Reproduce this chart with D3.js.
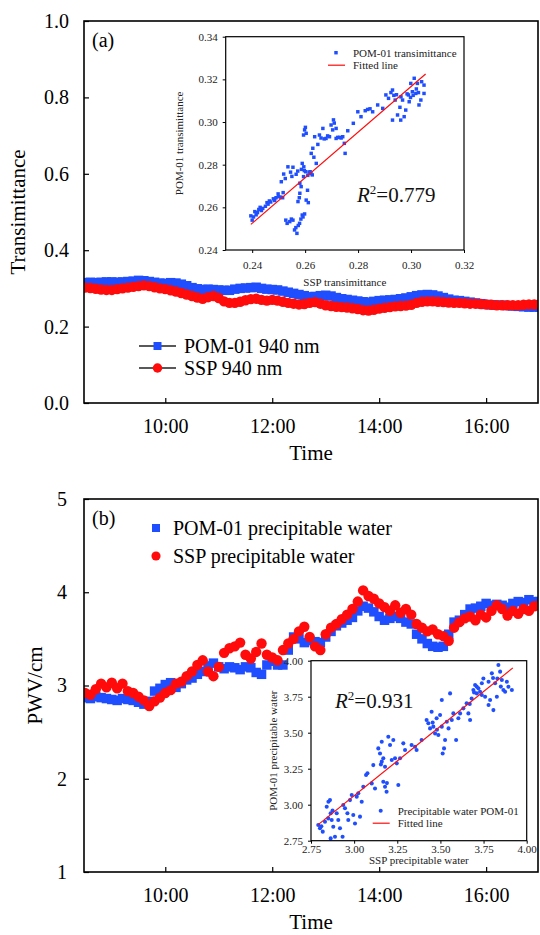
<!DOCTYPE html>
<html>
<head>
<meta charset="utf-8">
<script src="https://cdn.jsdelivr.net/npm/d3@7"></script>
<style>
  body { margin: 0; background: #fff; }
  svg { display: block; }
  svg text { font-family: "Liberation Serif", "Times New Roman", serif; }
</style>
</head>
<body>
<svg id="chart" width="540" height="935"></svg>
<script>
// time series: first sample 8:30, one sample every 6 minutes (hours)
const t0 = 8.5;
const dt = 0.1;

// (a) transmittance at 940 nm
const pomTrans = [
  0.315, 0.316, 0.315, 0.316, 0.317,
  0.317, 0.316, 0.317, 0.318, 0.319, 0.321, 0.320, 0.318, 0.316, 0.314,
  0.313, 0.315, 0.314, 0.311, 0.307, 0.302, 0.299, 0.297, 0.298, 0.297,
  0.296, 0.295, 0.295, 0.298, 0.300, 0.301, 0.302, 0.303, 0.300, 0.298,
  0.297, 0.296, 0.293, 0.290, 0.287, 0.284, 0.281, 0.278, 0.279, 0.281,
  0.282, 0.280, 0.276, 0.273, 0.271, 0.269, 0.267, 0.265, 0.264, 0.266,
  0.268, 0.269, 0.270, 0.271, 0.273, 0.275, 0.278, 0.281, 0.283, 0.284,
  0.283, 0.280, 0.276, 0.272, 0.269, 0.268, 0.266, 0.264, 0.262, 0.260,
  0.258, 0.257, 0.256, 0.256, 0.255, 0.254, 0.253, 0.252, 0.251, 0.251,
  0.251
];
const sspTrans = [
  0.302, 0.301, 0.299, 0.297, 0.296,
  0.296, 0.298, 0.300, 0.302, 0.304, 0.306, 0.308, 0.306, 0.303, 0.300,
  0.298, 0.295, 0.292, 0.288, 0.284, 0.280, 0.276, 0.273, 0.277, 0.280,
  0.275, 0.266, 0.262, 0.262, 0.265, 0.269, 0.272, 0.273, 0.270, 0.268,
  0.270, 0.268, 0.265, 0.262, 0.260, 0.258, 0.259, 0.262, 0.264, 0.260,
  0.256, 0.254, 0.252, 0.251, 0.250, 0.248, 0.246, 0.243, 0.242, 0.244,
  0.247, 0.249, 0.251, 0.253, 0.254, 0.255, 0.257, 0.262, 0.265, 0.266,
  0.266, 0.265, 0.264, 0.263, 0.262, 0.262, 0.261, 0.260, 0.260, 0.259,
  0.258, 0.257, 0.256, 0.256, 0.256, 0.256, 0.256, 0.257, 0.258, 0.258,
  0.258
];

// (b) precipitable water, cm
const pomPwv = [
  2.87, 2.86, 2.88, 2.87, 2.86,
  2.85, 2.84, 2.86, 2.85, 2.84, 2.82, 2.80, 2.83, 2.94, 2.97,
  3.01, 3.03, 2.98, 3.02, 3.06, 3.08, 3.12, 3.15, 3.21, 3.24,
  3.20, 3.18, 3.20, 3.19, 3.17, 3.20, 3.19, 3.14, 3.12, 3.22,
  3.26, 3.22, 3.22, 3.38, 3.52, 3.50, 3.46, 3.48, 3.47, 3.46,
  3.52, 3.58, 3.64, 3.67, 3.70, 3.73, 3.80, 3.85, 3.83, 3.79,
  3.74, 3.70, 3.72, 3.74, 3.72, 3.68, 3.66, 3.55, 3.50, 3.45,
  3.42, 3.41, 3.42, 3.55, 3.68, 3.70, 3.76, 3.82, 3.83, 3.85,
  3.88, 3.86, 3.87, 3.86, 3.84, 3.88, 3.90, 3.89, 3.92, 3.90,
  3.90
];
const sspPwv = [
  2.92, 2.90, 2.96, 3.02, 2.98,
  3.03, 2.97, 3.02, 2.94, 2.92, 2.88, 2.84, 2.78, 2.83, 2.87,
  2.92, 2.95, 3.02, 3.04, 3.10, 3.15, 3.22, 3.27, 3.15, 3.10,
  3.20, 3.35, 3.40, 3.42, 3.46, 3.33, 3.29, 3.36, 3.45, 3.33,
  3.30, 3.27, 3.38, 3.45, 3.50, 3.58, 3.63, 3.52, 3.42, 3.38,
  3.55, 3.62, 3.66, 3.71, 3.76, 3.82, 3.90, 4.02, 3.96, 3.93,
  3.88, 3.84, 3.80, 3.86, 3.78, 3.82, 3.76, 3.66, 3.62, 3.58,
  3.60, 3.55, 3.53, 3.48, 3.62, 3.68, 3.72, 3.74, 3.70, 3.76,
  3.73, 3.80, 3.86, 3.82, 3.75, 3.80, 3.77, 3.82, 3.80, 3.85,
  3.86
];

const timeTicks = [10, 12, 14, 16];
const transTicks = [0, 0.2, 0.4, 0.6, 0.8, 1.0];
const pwvTicks = [1, 2, 3, 4, 5];

// inset (a): SSP vs POM-01 transmittance
const scatterTrans = [
  [0.2395,0.256],[0.2400,0.254],[0.2405,0.2555],[0.241,0.258],[0.2415,0.2565],[0.242,0.2575],
  [0.2425,0.259],[0.243,0.260],[0.2435,0.2585],[0.244,0.2595],[0.245,0.2605],[0.2456,0.2622],
  [0.246,0.2615],[0.2465,0.263],[0.247,0.2625],[0.248,0.264],[0.2485,0.2632],[0.249,0.2645],
  [0.2498,0.2663],[0.250,0.265],[0.2508,0.2648],[0.2517,0.2669],[0.2515,0.2645],[0.251,0.272],
  [0.2519,0.2756],[0.2525,0.2735],[0.2535,0.279],[0.2554,0.2788],[0.2545,0.2765],[0.255,0.2745],
  [0.2527,0.254],[0.2532,0.2525],[0.2542,0.2533],[0.2548,0.2545],[0.2554,0.254],[0.256,0.2494],
  [0.2565,0.2505],[0.2569,0.2478],[0.2574,0.2515],[0.2579,0.2525],[0.2584,0.2545],[0.2589,0.2564],
  [0.2598,0.2569],[0.2592,0.2555],
  [0.2573,0.2627],[0.2578,0.2645],[0.258,0.2666],[0.2585,0.2697],[0.258,0.2713],[0.2594,0.2744],
  [0.2602,0.2767],[0.261,0.275],[0.2609,0.268],[0.2604,0.2634],[0.2612,0.2622],[0.2589,0.2806],
  [0.2597,0.2772],[0.2615,0.2765],[0.2622,0.2758],[0.2627,0.2752],[0.2619,0.2767],[0.2566,0.2755],
  [0.2572,0.277],[0.2586,0.2778],[0.2595,0.279],
  [0.2598,0.2963],[0.2594,0.2939],[0.2604,0.2947],[0.2601,0.2975],[0.2623,0.2853],[0.2629,0.2877],
  [0.2636,0.2931],[0.2642,0.2806],[0.2633,0.2835],[0.2648,0.2895],
  [0.2654,0.2939],[0.266,0.2925],[0.2667,0.297],[0.2672,0.2921],[0.2679,0.2923],[0.2685,0.2935],
  [0.2692,0.2931],[0.2698,0.2986],[0.2704,0.2963],[0.2707,0.301],[0.271,0.2995],[0.2717,0.297],
  [0.2717,0.2923],[0.2723,0.2928],[0.273,0.2928],[0.2742,0.2931],[0.2748,0.29],[0.2751,0.2853],
  [0.2761,0.2959],[0.2736,0.2925],
  [0.2782,0.2994],[0.2799,0.3048],[0.2811,0.3025],[0.2827,0.3053],[0.2836,0.3059],[0.2855,0.3048],
  [0.2874,0.308],[0.2893,0.3064],[0.2845,0.3062],
  [0.2905,0.3127],[0.2915,0.3111],[0.2924,0.3138],[0.293,0.315],[0.2935,0.3125],[0.294,0.3103],
  [0.2949,0.3033],[0.2958,0.3069],[0.2962,0.3118],[0.2968,0.3103],[0.2974,0.3025],[0.298,0.3056],
  [0.2985,0.3132],[0.299,0.3127],[0.2993,0.3095],[0.2999,0.3181],[0.3005,0.3142],[0.3012,0.3205],
  [0.3018,0.3134],[0.302,0.3155],[0.3024,0.3181],[0.303,0.308],[0.3037,0.3103],[0.304,0.3189],
  [0.3049,0.3173],[0.3049,0.3134],[0.2961,0.3009],[0.293,0.3009],[0.2945,0.3128],[0.2998,0.3115],
  [0.3008,0.3125],[0.3028,0.3138]
];
const fitTrans = [[0.2395, 0.252], [0.3055, 0.3225]];
const transInsetTicks = [0.24, 0.26, 0.28, 0.30, 0.32];
const transInsetYTicks = [0.24, 0.26, 0.28, 0.30, 0.32, 0.34];

// inset (b): SSP vs POM-01 precipitable water
const scatterPwv = [
  [2.792,2.859],[2.802,2.836],[2.818,2.813],[2.831,2.882],[2.841,2.986],[2.851,3.021],[2.86,3.032],
  [2.864,2.94],[2.87,2.894],[2.879,2.847],[2.889,2.778],[2.864,2.766],[2.899,2.94],[2.908,2.894],
  [2.918,2.836],[2.933,2.778],[2.937,2.998],[2.947,2.975],[2.961,2.94],[2.966,2.894],[2.976,3.032],
  [2.986,3.067],[2.995,2.928],[3.005,2.87],[3.015,3.056],[3.024,3.079],[3.034,2.917],[3.044,3.021],
  [3.053,3.125],[3.069,3.206],[3.077,3.218],[3.102,3.148],[2.85,2.905],[2.875,2.96],[2.81,2.85],
  [3.111,3.275],[3.121,3.113],[3.14,3.391],[3.15,3.356],[3.16,3.299],[3.169,3.16],[3.179,3.125],
  [3.188,3.09],[3.198,3.472],[3.16,3.437],[3.208,3.414],[3.218,3.31],[3.227,3.449],[3.237,3.322],
  [3.247,3.287],[3.256,3.137],[3.266,3.322],[3.179,3.264],[3.169,3.322],[3.19,3.15],[3.155,3.28],
  [3.285,3.426],[3.295,3.38],[3.333,3.414],[3.353,3.403],[3.362,3.38],[3.391,3.449],
  [3.42,3.588],[3.43,3.565],[3.44,3.53],[3.449,3.646],[3.459,3.542],[3.469,3.495],[3.478,3.6],
  [3.488,3.484],[3.498,3.623],[3.508,3.542],[3.513,3.356],[3.521,3.391],[3.527,3.449],[3.537,3.576],
  [3.547,3.53],[3.508,3.727],[3.556,3.773],[3.566,3.588],[3.575,3.634],[3.591,3.449],[3.604,3.6],
  [3.614,3.634],[3.48,3.52],[3.455,3.57],
  [3.633,3.669],[3.652,3.704],[3.662,3.634],[3.672,3.588],[3.681,3.738],[3.691,3.796],[3.701,3.831],
  [3.711,3.773],[3.72,3.808],[3.73,3.785],[3.74,3.843],[3.749,3.877],[3.759,3.75],[3.779,3.692],
  [3.788,3.727],[3.798,3.912],[3.807,3.657],[3.817,3.843],[3.827,3.75],[3.836,3.97],[3.846,3.924],
  [3.856,3.866],[3.865,3.796],[3.885,3.854],[3.894,3.819],[3.914,3.796],[3.875,3.785],[3.83,3.877],
  [3.779,3.854],[3.74,3.762],[3.695,3.78],[3.71,3.82],[3.805,3.88],[3.85,3.82],[3.67,3.7]
];
const fitPwv = [[2.79, 2.86], [3.92, 3.95]];
const pwvInsetTicks = [2.75, 3.00, 3.25, 3.50, 3.75, 4.00];

const BLUE = '#1f4eff';
const RED = '#ff0b0b';
const SERIF = '"Liberation Serif", "Times New Roman", serif';

const svg = d3.select('#chart').attr('font-family', SERIF);
const times = pomTrans.map((d, i) => t0 + i * dt);

/* Main panel helper */
function mainPanel(cfg) {
  const x = d3.scaleLinear().domain([8.48, 16.97]).range([84, 538]);
  const y = d3.scaleLinear().domain(cfg.yDomain).range([cfg.bottom, cfg.top]);
  const g = svg.append('g');

  const clipId = 'clip-' + cfg.id;
  svg.append('clipPath').attr('id', clipId)
    .append('rect')
    .attr('x', 84).attr('y', cfg.top)
    .attr('width', 538 - 84).attr('height', cfg.bottom - cfg.top);

  const plot = g.append('g').attr('clip-path', `url(#${clipId})`);

  cfg.series.forEach((s) => {
    plot.append('g')
      .selectAll('path')
      .data(s.values)
      .enter()
      .append('path')
      .attr('d', d3.symbol().type(s.shape).size(s.size))
      .attr('transform', (d, i) => `translate(${x(times[i])},${y(d)})`)
      .attr('fill', s.color);
  });

  const xAxis = d3.axisBottom(x).tickValues(timeTicks)
    .tickSizeInner(-5).tickSizeOuter(0).tickPadding(16)
    .tickFormat((d) => d + ':00');
  const yAxis = d3.axisLeft(y).tickValues(cfg.yTicks)
    .tickSizeInner(-5).tickSizeOuter(0).tickPadding(cfg.yPad)
    .tickFormat(cfg.yFormat);

  const gx = g.append('g').attr('transform', `translate(0,${cfg.bottom})`).call(xAxis);
  const gy = g.append('g').attr('transform', 'translate(84,0)').call(yAxis);
  [gx, gy].forEach((a) => {
    a.attr('font-family', SERIF).attr('font-size', 20);
    a.select('.domain').remove();
    a.selectAll('line').attr('stroke', '#000').attr('stroke-width', 1.2);
    a.selectAll('text').attr('font-family', SERIF).attr('font-size', 20).attr('fill', '#000');
  });

  // frame
  g.append('rect')
    .attr('x', 84).attr('y', cfg.top)
    .attr('width', 538 - 84).attr('height', cfg.bottom - cfg.top)
    .attr('fill', 'none').attr('stroke', '#000').attr('stroke-width', 1.6);

  g.append('text')
    .attr('x', 311).attr('y', cfg.bottom + 57)
    .attr('text-anchor', 'middle').attr('font-size', 21)
    .text('Time');

  g.append('text')
    .attr('transform', `translate(${cfg.yLabelX},${(cfg.top + cfg.bottom) / 2}) rotate(-90)`)
    .attr('text-anchor', 'middle').attr('font-size', 21)
    .text(cfg.yLabel);

  g.append('text')
    .attr('x', 92).attr('y', cfg.top + 26)
    .attr('font-size', 20)
    .text(cfg.tag);

  return g;
}

/* Inset helper */
function inset(cfg) {
  const x = d3.scaleLinear().domain(cfg.xDomain).range([cfg.left, cfg.right]);
  const y = d3.scaleLinear().domain(cfg.yDomain).range([cfg.bottom, cfg.top]);
  const g = svg.append('g');

  g.append('rect')
    .attr('x', cfg.left).attr('y', cfg.top)
    .attr('width', cfg.right - cfg.left).attr('height', cfg.bottom - cfg.top)
    .attr('fill', '#fff');

  g.append('g')
    .selectAll('path')
    .data(cfg.points)
    .enter()
    .append('path')
    .attr('d', d3.symbol().type(cfg.shape).size(cfg.size))
    .attr('transform', (d) => `translate(${x(d[0])},${y(d[1])})`)
    .attr('fill', BLUE);

  g.append('line')
    .attr('x1', x(cfg.fit[0][0])).attr('y1', y(cfg.fit[0][1]))
    .attr('x2', x(cfg.fit[1][0])).attr('y2', y(cfg.fit[1][1]))
    .attr('stroke', RED).attr('stroke-width', 1.2);

  const xAxis = d3.axisBottom(x).tickValues(cfg.xTicks)
    .tickSizeInner(3).tickSizeOuter(0).tickPadding(cfg.xPad)
    .tickFormat(d3.format('.2f'));
  const yAxis = d3.axisLeft(y).tickValues(cfg.yTicks)
    .tickSizeInner(3).tickSizeOuter(0).tickPadding(5)
    .tickFormat(d3.format('.2f'));
  const gx = g.append('g').attr('transform', `translate(0,${cfg.bottom})`).call(xAxis);
  const gy = g.append('g').attr('transform', `translate(${cfg.left},0)`).call(yAxis);
  [gx, gy].forEach((a) => {
    a.attr('font-family', SERIF).attr('font-size', 11);
    a.select('.domain').remove();
    a.selectAll('line').attr('stroke', '#000').attr('stroke-width', 1);
    a.selectAll('text').attr('font-family', SERIF).attr('font-size', 11).attr('fill', '#222');
  });

  g.append('rect')
    .attr('x', cfg.left).attr('y', cfg.top)
    .attr('width', cfg.right - cfg.left).attr('height', cfg.bottom - cfg.top)
    .attr('fill', 'none').attr('stroke', '#000').attr('stroke-width', 1.2);

  g.append('text')
    .attr('x', (cfg.left + cfg.right) / 2 + cfg.xTitleShift).attr('y', cfg.xTitleY)
    .attr('text-anchor', 'middle').attr('font-size', 11).attr('fill', '#222')
    .text(cfg.xTitle);
  g.append('text')
    .attr('transform', `translate(${cfg.yTitleX},${(cfg.top + cfg.bottom) / 2}) rotate(-90)`)
    .attr('text-anchor', 'middle').attr('font-size', 11).attr('fill', '#222')
    .text(cfg.yTitle);

  // legend
  const lg = g.append('g').attr('font-size', 11).attr('fill', '#222');
  lg.append('path')
    .attr('d', d3.symbol().type(cfg.shape).size(cfg.size))
    .attr('transform', `translate(${cfg.legX + 8},${cfg.legY})`)
    .attr('fill', BLUE);
  lg.append('text').attr('x', cfg.legX + 25).attr('y', cfg.legY + 4).text(cfg.legText);
  lg.append('line')
    .attr('x1', cfg.legX).attr('x2', cfg.legX + 17)
    .attr('y1', cfg.legY + 12.5).attr('y2', cfg.legY + 12.5)
    .attr('stroke', RED).attr('stroke-width', 1.2);
  lg.append('text').attr('x', cfg.legX + 25).attr('y', cfg.legY + 16.5).text('Fitted line');

  // R squared
  const r = g.append('text')
    .attr('x', cfg.rX).attr('y', cfg.rY).attr('font-size', 21).attr('fill', '#111');
  r.append('tspan').attr('font-style', 'italic').text('R');
  r.append('tspan').attr('font-size', 13).attr('dy', -8).text('2');
  r.append('tspan').attr('dy', 8).text('=' + cfg.r2);
}

/* Panel (a) */
mainPanel({
  id: 'a', top: 21, bottom: 403, yDomain: [0, 1],
  yTicks: transTicks, yFormat: d3.format('.1f'), yPad: 15,
  yLabel: 'Transimittance', yLabelX: 25, tag: '(a)',
  series: [
    { values: pomTrans, color: BLUE, shape: d3.symbolSquare, size: 90 },
    { values: sspTrans, color: RED, shape: d3.symbolCircle, size: 85 }
  ]
});

// legend (a)
const legA = svg.append('g').attr('font-size', 20);
[
  { label: 'POM-01 940 nm', color: BLUE, shape: d3.symbolSquare, size: 64, y: 346 },
  { label: 'SSP 940 nm', color: RED, shape: d3.symbolCircle, size: 70, y: 368 }
].forEach((d) => {
  legA.append('line')
    .attr('x1', 139).attr('x2', 176).attr('y1', d.y).attr('y2', d.y)
    .attr('stroke', '#222').attr('stroke-width', 1.3);
  legA.append('path')
    .attr('d', d3.symbol().type(d.shape).size(d.size))
    .attr('transform', `translate(157.5,${d.y})`)
    .attr('fill', d.color);
  legA.append('text').attr('x', 184).attr('y', d.y + 7).text(d.label);
});

inset({
  left: 225.7, right: 464, top: 36.7, bottom: 250,
  xDomain: [0.23, 0.32], yDomain: [0.24, 0.34],
  xTicks: transInsetTicks, yTicks: transInsetYTicks, xPad: 8,
  points: scatterTrans, shape: d3.symbolSquare, size: 12,
  fit: fitTrans,
  xTitle: 'SSP transimittance', xTitleY: 286, xTitleShift: 0,
  yTitle: 'POM-01 transimittance', yTitleX: 183,
  legX: 328, legY: 52.7, legText: 'POM-01 transimittance',
  rX: 357, rY: 202, r2: '0.779'
});

/* Panel (b) */
mainPanel({
  id: 'b', top: 499, bottom: 872, yDomain: [1, 5],
  yTicks: pwvTicks, yFormat: d3.format('d'), yPad: 17,
  yLabel: 'PWV/cm', yLabelX: 42, tag: '(b)',
  series: [
    { values: pomPwv, color: BLUE, shape: d3.symbolSquare, size: 90 },
    { values: sspPwv, color: RED, shape: d3.symbolCircle, size: 85 }
  ]
});

// legend (b)
const legB = svg.append('g').attr('font-size', 20);
[
  { label: 'POM-01 precipitable water', color: BLUE, shape: d3.symbolSquare, size: 64, y: 528 },
  { label: 'SSP precipitable water', color: RED, shape: d3.symbolCircle, size: 66, y: 556 }
].forEach((d) => {
  legB.append('path')
    .attr('d', d3.symbol().type(d.shape).size(d.size))
    .attr('transform', `translate(156,${d.y})`)
    .attr('fill', d.color);
  legB.append('text').attr('x', 173).attr('y', d.y + 7).text(d.label);
});

inset({
  left: 311, right: 526.7, top: 660.7, bottom: 840.7,
  xDomain: [2.75, 4.0], yDomain: [2.75, 4.0],
  xTicks: pwvInsetTicks, yTicks: pwvInsetTicks, xPad: 2,
  points: scatterPwv, shape: d3.symbolCircle, size: 13,
  fit: fitPwv,
  xTitle: 'SSP precipitable water', xTitleY: 864, xTitleShift: 0,
  yTitle: 'POM-01 precipitable water', yTitleX: 277,
  legX: 372.7, legY: 810.7, legText: 'Precipitable water POM-01',
  rX: 335, rY: 708, r2: '0.931'
});
</script>
</body>
</html>
